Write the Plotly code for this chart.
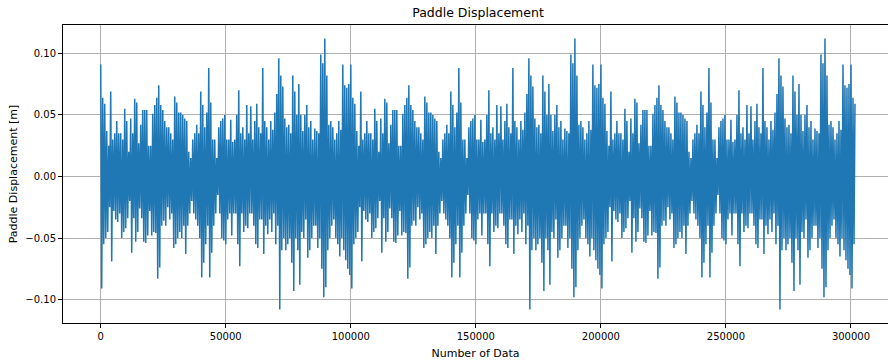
import numpy as np
import plotly.graph_objects as go

# One repeating cycle (100000 samples) as (peak, trough) pairs,
# each pair spanning 800 samples.
cycle_hi = [0.091, 0.064, 0.059, 0.037, 0.025, 0.069, 0.030, 0.035, 0.045, 0.035,
            0.035, 0.030, 0.055, 0.045, 0.020, 0.047, 0.035, 0.063, 0.060, 0.027,
            0.042, 0.054, 0.054, 0.054, 0.025, 0.025, 0.051, 0.058, 0.064, 0.074,
            0.058, 0.054, 0.045, 0.040, 0.040, 0.035, 0.030, 0.065, 0.060, 0.052,
            0.052, 0.050, 0.047, 0.045, 0.020, 0.015, 0.030, 0.035, 0.042, 0.035,
            0.069, 0.058, 0.040, 0.052, 0.088, 0.060, 0.030, 0.030, 0.015, 0.040,
            0.045, 0.047, 0.050, 0.030, 0.030, 0.046, 0.028, 0.030, 0.050, 0.070,
            0.035, 0.040, 0.030, 0.058, 0.035, 0.057, 0.030, 0.045, 0.059, 0.040,
            0.035, 0.088, 0.045, 0.040, 0.030, 0.045, 0.038, 0.052, 0.067, 0.096,
            0.082, 0.073, 0.047, 0.040, 0.042, 0.035, 0.082, 0.069, 0.050, 0.075,
            0.050, 0.037, 0.050, 0.058, 0.040, 0.045, 0.030, 0.039, 0.037, 0.035,
            0.099, 0.092, 0.112, 0.082, 0.042, 0.045, 0.040, 0.030, 0.035, 0.045,
            0.038, 0.091, 0.074, 0.072, 0.075]
cycle_lo = [-0.091, -0.055, -0.050, -0.045, -0.025, -0.069, -0.028, -0.035, -0.037, -0.030,
            -0.050, -0.045, -0.042, -0.034, -0.020, -0.062, -0.034, -0.053, -0.045, -0.026,
            -0.034, -0.053, -0.054, -0.048, -0.028, -0.048, -0.045, -0.046, -0.083, -0.074,
            -0.040, -0.036, -0.040, -0.025, -0.035, -0.030, -0.058, -0.055, -0.050, -0.045,
            -0.050, -0.040, -0.063, -0.040, -0.030, -0.020, -0.030, -0.035, -0.040, -0.050,
            -0.082, -0.070, -0.055, -0.040, -0.082, -0.062, -0.040, -0.030, -0.015, -0.030,
            -0.050, -0.052, -0.055, -0.035, -0.030, -0.048, -0.030, -0.030, -0.055, -0.073,
            -0.030, -0.045, -0.040, -0.042, -0.030, -0.030, -0.040, -0.055, -0.058, -0.035,
            -0.035, -0.063, -0.040, -0.047, -0.035, -0.045, -0.030, -0.055, -0.040, -0.108,
            -0.060, -0.050, -0.060, -0.055, -0.050, -0.070, -0.093, -0.050, -0.060, -0.088,
            -0.045, -0.050, -0.035, -0.066, -0.060, -0.050, -0.040, -0.040, -0.058, -0.050,
            -0.075, -0.098, -0.090, -0.060, -0.050, -0.040, -0.035, -0.050, -0.055, -0.065,
            -0.050, -0.060, -0.068, -0.075, -0.080]
n_cycles = 3          # full cycles shown
tail_pairs = 3        # extra pairs after the last full cycle (to ~301600)
pair_len = 800

x_ticks = [0, 50000, 100000, 150000, 200000, 250000, 300000]
x_tick_text = ["0", "50000", "100000", "150000", "200000", "250000", "300000"]
y_ticks = [-0.10, -0.05, 0.00, 0.05, 0.10]
y_tick_text = ["\u22120.10", "\u22120.05", "0.00", "0.05", "0.10"]

pairs_hi = cycle_hi * n_cycles + cycle_hi[:tail_pairs]
pairs_lo = cycle_lo * n_cycles + cycle_lo[:tail_pairs]
y = []
for h, l in zip(pairs_hi, pairs_lo):
    y.extend([h, l])
y = y[:-1]
x = np.arange(len(y)) * (pair_len // 2)

xmin, xmax = x.min(), x.max()
ymin, ymax = min(y), max(y)
xpad = 0.05 * (xmax - xmin)
ypad = 0.05 * (ymax - ymin)

# The original axes box runs slightly past the right edge of the image (it is cropped),
# so show only the visible fraction of the full padded range.
W, H = 888, 364
left_px, full_right_px = 63.3, 892.7
x_lo = xmin - xpad
x_hi_full = xmax + xpad
visible_frac = (W - left_px) / (full_right_px - left_px)
x_hi = x_lo + (x_hi_full - x_lo) * visible_frac

fig = go.Figure()
fig.add_trace(go.Scatter(x=x, y=y, mode="lines",
                         line=dict(color="#1f77b4", width=1.5),
                         hoverinfo="skip", showlegend=False))

axis_common = dict(showgrid=True, gridcolor="#b0b0b0", gridwidth=0.8,
                   showline=True, linecolor="black", linewidth=1,
                   ticks="outside", ticklen=4, tickwidth=1, tickcolor="black",
                   zeroline=False,
                   tickfont=dict(family="DejaVu Sans", size=10, color="black"))

fig.update_layout(
    width=W, height=H,
    margin=dict(l=63, r=0, t=25, b=41),
    paper_bgcolor="white", plot_bgcolor="white",
    font=dict(family="DejaVu Sans", color="black"),
    title=dict(text="Paddle Displacement", x=(left_px + full_right_px) / 2 / W, xanchor="center",
               y=1 - 13 / H, yanchor="middle",
               font=dict(family="DejaVu Sans", size=12.5, color="black")),
    xaxis=dict(range=[x_lo, x_hi], tickvals=x_ticks, ticktext=x_tick_text, mirror=True,
               title=dict(text="Number of Data", standoff=8,
                          font=dict(family="DejaVu Sans", size=11)),
               **axis_common),
    yaxis=dict(range=[ymin - ypad, ymax + ypad], tickvals=y_ticks, ticktext=y_tick_text,
               mirror=False,
               title=dict(text="Paddle Displacement [m]", standoff=5,
                          font=dict(family="DejaVu Sans", size=11)),
               **axis_common),
)

fig.write_html("out.html")
